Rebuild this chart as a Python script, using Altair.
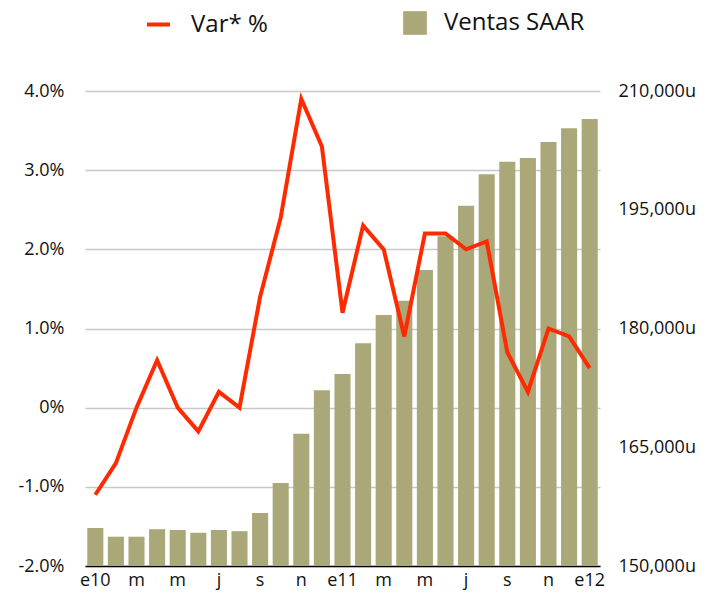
import altair as alt
import pandas as pd

meses = ["e10", "f", "m", "a", "m", "j", "j", "a", "s", "o", "n", "d",
         "e11", "f", "m", "a", "m", "j", "j", "a", "s", "o", "n", "d", "e12"]
ventas = [154800, 153700, 153700, 154650, 154550, 154200, 154550, 154400,
          156700, 160500, 166700, 172200, 174250, 178150, 181700, 183500,
          187400, 191650, 195500, 199500, 201050, 201550, 203550, 205300, 206450]
var_pct = [-1.1, -0.7, 0.0, 0.6, 0.0, -0.3, 0.2, 0.0, 1.4, 2.4, 3.9, 3.3,
           1.2, 2.3, 2.0, 0.9, 2.2, 2.2, 2.0, 2.1, 0.7, 0.2, 1.0, 0.9, 0.5]
series = ["Var* %", "Ventas SAAR"]

df = pd.DataFrame({"idx": list(range(len(meses))), "mes": meses,
                   "ventas": ventas, "var": var_pct,
                   "s_line": series[0], "s_bar": series[1]})

FONT = "Open Sans"
lab_arr = "[" + ",".join("'" + m + "'" for m in meses) + "]"

x = alt.X("idx:O", title=None,
          scale=alt.Scale(paddingInner=0.22, paddingOuter=0.11),
          axis=alt.Axis(values=list(range(0, 25, 2)),
                        labelExpr=lab_arr + "[datum.value]",
                        labelAngle=0, ticks=False, domain=True,
                        domainColor="#000000", domainWidth=1.5,
                        labelFont=FONT, labelFontSize=18, labelColor="#111111",
                        labelPadding=5, grid=False))

bars = alt.Chart(df).mark_bar().encode(
    x=x,
    y=alt.Y("ventas:Q", title=None,
            scale=alt.Scale(domain=[150000, 210000], zero=False, nice=False),
            axis=alt.Axis(orient="right", values=[150000, 165000, 180000, 195000, 210000],
                          labelExpr="format(datum.value, ',') + 'u'",
                          ticks=False, domain=False, grid=False,
                          labelFont=FONT, labelFontSize=18, labelColor="#111111",
                          labelPadding=18)),
    y2=alt.datum(150000),
    fill=alt.Fill("s_bar:N", scale=alt.Scale(range=["#aaa878"]),
                  legend=alt.Legend(title=None, orient="none", legendX=318, legendY=-80,
                                    symbolType="square", symbolSize=560,
                                    symbolStrokeWidth=0, labelLimit=400,
                                    labelFont=FONT, labelFontSize=24,
                                    labelColor="#111111", labelOffset=17, padding=0)),
)

line = alt.Chart(df).mark_line(strokeWidth=4).encode(
    x=x,
    y=alt.Y("var:Q", title=None,
            scale=alt.Scale(domain=[-2, 4], nice=False),
            axis=alt.Axis(orient="left", values=[-2, -1, 0, 1, 2, 3, 4],
                          labelExpr="datum.value == 0 ? '0%' : (datum.value < 0 ? '-' : '') + format(abs(datum.value), '.1f') + '%'",
                          ticks=False, domain=False, grid=True,
                          gridColor="#c8c8c8", gridWidth=1.5,
                          labelFont=FONT, labelFontSize=18, labelColor="#111111",
                          labelPadding=21)),
    stroke=alt.Stroke("s_line:N", scale=alt.Scale(range=["#ff2a00"]),
                      legend=alt.Legend(title=None, orient="none", legendX=60, legendY=-80,
                                        symbolType="stroke", symbolSize=529,
                                        symbolStrokeWidth=4, labelLimit=400,
                                        labelFont=FONT, labelFontSize=24,
                                        labelColor="#111111", labelOffset=19, padding=0)),
)

chart = alt.layer(bars, line).resolve_scale(y="independent").properties(
    width=515, height=475,
    autosize=alt.AutoSizeParams(type="none"),
    padding={"left": 77, "top": 83, "right": 102, "bottom": 28},
).configure_view(stroke=None)

chart.save("out.html", embed_options={"renderer": "svg", "actions": False})
